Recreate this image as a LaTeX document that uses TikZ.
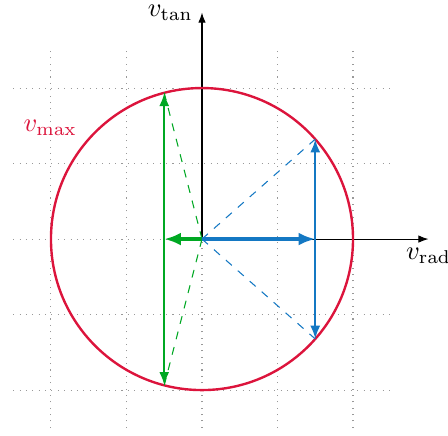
\documentclass[tikz,border=0pt]{standalone}
\usetikzlibrary{arrows.meta}
\definecolor{cred}{RGB}{220,20,60}
\definecolor{cblue}{RGB}{20,120,195}
\definecolor{cgreen}{RGB}{0,168,35}
\begin{document}
\begin{tikzpicture}[
  gridline/.style={gray!80, dotted},
  axis/.style={black, line width=0.4pt, -{Latex[length=3.8pt,width=2.8pt]}},
  bigvec/.style={line width=1.3pt, -{Latex[length=6.3pt,width=4.9pt]}},
  compvec/.style={line width=0.9pt, {Latex[length=5pt,width=3.8pt]}-{Latex[length=5pt,width=3.8pt]}},
  guide/.style={line width=0.4pt, dashed},
]
\useasboundingbox (-2.675,-2.596) rectangle (3.258,3.166);
\draw[gridline] (-2.5,-2.5) grid (2.5,2.5);
\coordinate (O) at (0,0);
\coordinate (X) at (3,0);
\coordinate (Y) at (0,3);
\draw[axis] (O) -- (X) node[below] (vrad) {$v_{\mathrm{rad}}$};
\draw[axis] (O) -- (Y) node[left] (vtan) {$v_{\tan}$};
\draw[cred, line width=0.9pt] (O) circle[radius=2];
\node[text=cred] (vmax) at (-2.01,1.48) {$v_{\max}$};
% green
\coordinate (G) at (-0.5,0);
\coordinate (Gt) at (-0.5,1.9365);
\coordinate (Gb) at (-0.5,-1.9365);
\draw[guide, cgreen] (O) -- (Gt);
\draw[guide, cgreen] (O) -- (Gb);
\draw[compvec, cgreen] (Gb) -- (Gt);
\draw[bigvec, cgreen] (O) -- (G);
% blue
\coordinate (B) at (1.5,0);
\coordinate (Bt) at (1.5,1.3229);
\coordinate (Bb) at (1.5,-1.3229);
\draw[guide, cblue] (O) -- (Bt);
\draw[guide, cblue] (O) -- (Bb);
\draw[compvec, cblue] (Bb) -- (Bt);
\draw[bigvec, cblue] (O) -- (B);
\end{tikzpicture}
\end{document}
